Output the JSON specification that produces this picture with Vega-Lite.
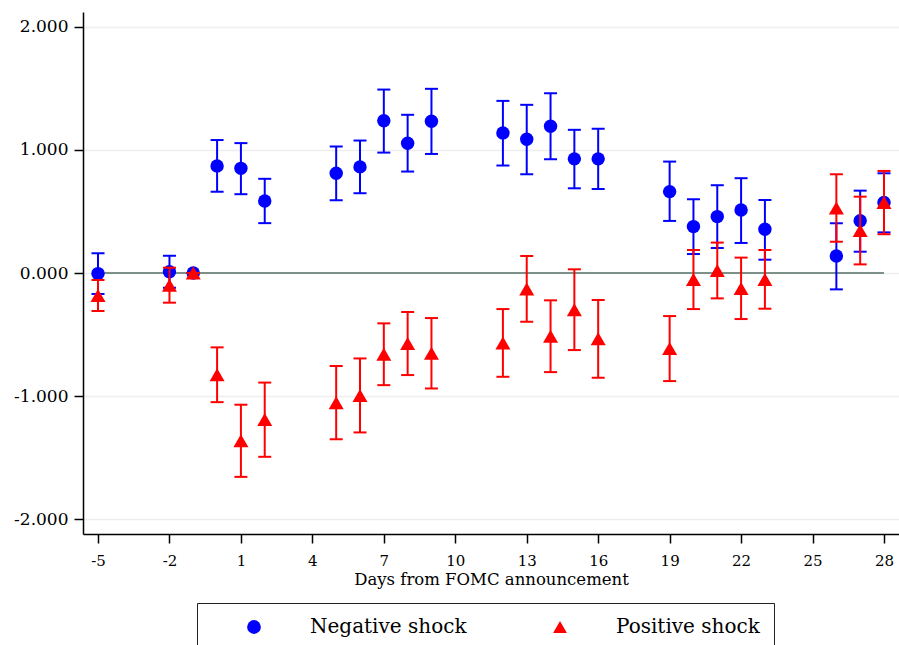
{
  "$schema": "https://vega.github.io/schema/vega-lite/v6.json",
  "width": 816,
  "height": 522,
  "autosize": {"type": "none"},
  "padding": {"left": 83, "top": 12, "right": 0, "bottom": 111},
  "background": "white",
  "datasets": {
    "est": [
      {"day": -5, "series": "Negative shock", "est": -0.005, "lo": -0.17, "hi": 0.16},
      {"day": -2, "series": "Negative shock", "est": 0.01, "lo": -0.12, "hi": 0.14},
      {"day": -1, "series": "Negative shock", "est": 0, "lo": 0, "hi": 0},
      {"day": 0, "series": "Negative shock", "est": 0.87, "lo": 0.66, "hi": 1.08},
      {"day": 1, "series": "Negative shock", "est": 0.85, "lo": 0.64, "hi": 1.055},
      {"day": 2, "series": "Negative shock", "est": 0.585, "lo": 0.405, "hi": 0.765},
      {"day": 5, "series": "Negative shock", "est": 0.81, "lo": 0.59, "hi": 1.027},
      {"day": 6, "series": "Negative shock", "est": 0.862, "lo": 0.648, "hi": 1.076},
      {"day": 7, "series": "Negative shock", "est": 1.236, "lo": 0.978, "hi": 1.49},
      {"day": 8, "series": "Negative shock", "est": 1.054, "lo": 0.824, "hi": 1.285},
      {"day": 9, "series": "Negative shock", "est": 1.233, "lo": 0.967, "hi": 1.496},
      {"day": 12, "series": "Negative shock", "est": 1.138, "lo": 0.873, "hi": 1.398},
      {"day": 13, "series": "Negative shock", "est": 1.087, "lo": 0.802, "hi": 1.366},
      {"day": 14, "series": "Negative shock", "est": 1.192, "lo": 0.924, "hi": 1.46},
      {"day": 15, "series": "Negative shock", "est": 0.927, "lo": 0.688, "hi": 1.163},
      {"day": 16, "series": "Negative shock", "est": 0.927, "lo": 0.683, "hi": 1.171},
      {"day": 19, "series": "Negative shock", "est": 0.661, "lo": 0.423, "hi": 0.905},
      {"day": 20, "series": "Negative shock", "est": 0.377, "lo": 0.154, "hi": 0.599},
      {"day": 21, "series": "Negative shock", "est": 0.458, "lo": 0.203, "hi": 0.713},
      {"day": 22, "series": "Negative shock", "est": 0.512, "lo": 0.244, "hi": 0.77},
      {"day": 23, "series": "Negative shock", "est": 0.355, "lo": 0.108, "hi": 0.593},
      {"day": 26, "series": "Negative shock", "est": 0.138, "lo": -0.133, "hi": 0.404},
      {"day": 27, "series": "Negative shock", "est": 0.425, "lo": 0.173, "hi": 0.669},
      {"day": 28, "series": "Negative shock", "est": 0.572, "lo": 0.33, "hi": 0.81},
      {"day": -5, "series": "Positive shock", "est": -0.183, "lo": -0.309, "hi": -0.057},
      {"day": -2, "series": "Positive shock", "est": -0.099, "lo": -0.241, "hi": 0.043},
      {"day": -1, "series": "Positive shock", "est": 0, "lo": 0, "hi": 0},
      {"day": 0, "series": "Positive shock", "est": -0.826, "lo": -1.049, "hi": -0.604},
      {"day": 1, "series": "Positive shock", "est": -1.363, "lo": -1.656, "hi": -1.07},
      {"day": 2, "series": "Positive shock", "est": -1.19, "lo": -1.493, "hi": -0.89},
      {"day": 5, "series": "Positive shock", "est": -1.053, "lo": -1.35, "hi": -0.756},
      {"day": 6, "series": "Positive shock", "est": -0.995, "lo": -1.295, "hi": -0.694},
      {"day": 7, "series": "Positive shock", "est": -0.66, "lo": -0.911, "hi": -0.409},
      {"day": 8, "series": "Positive shock", "est": -0.573, "lo": -0.829, "hi": -0.317},
      {"day": 9, "series": "Positive shock", "est": -0.652, "lo": -0.938, "hi": -0.366},
      {"day": 12, "series": "Positive shock", "est": -0.568, "lo": -0.843, "hi": -0.293},
      {"day": 13, "series": "Positive shock", "est": -0.129, "lo": -0.396, "hi": 0.138},
      {"day": 14, "series": "Positive shock", "est": -0.513, "lo": -0.805, "hi": -0.222},
      {"day": 15, "series": "Positive shock", "est": -0.298, "lo": -0.626, "hi": 0.03},
      {"day": 16, "series": "Positive shock", "est": -0.535, "lo": -0.851, "hi": -0.22},
      {"day": 19, "series": "Positive shock", "est": -0.614, "lo": -0.878, "hi": -0.35},
      {"day": 20, "series": "Positive shock", "est": -0.053, "lo": -0.293, "hi": 0.187},
      {"day": 21, "series": "Positive shock", "est": 0.02, "lo": -0.206, "hi": 0.247},
      {"day": 22, "series": "Positive shock", "est": -0.125, "lo": -0.374, "hi": 0.125},
      {"day": 23, "series": "Positive shock", "est": -0.052, "lo": -0.29, "hi": 0.187},
      {"day": 26, "series": "Positive shock", "est": 0.528, "lo": 0.254, "hi": 0.802},
      {"day": 27, "series": "Positive shock", "est": 0.345, "lo": 0.07, "hi": 0.62},
      {"day": 28, "series": "Positive shock", "est": 0.572, "lo": 0.315, "hi": 0.829}
    ],
    "zero": [{"start": -5, "end": 28, "y": 0}]
  },
  "encoding": {
    "x": {
      "field": "day", "type": "quantitative",
      "scale": {"domain": [-5.63, 28.63], "nice": false, "zero": false},
      "axis": {
        "values": [-5, -2, 1, 4, 7, 10, 13, 16, 19, 22, 25, 28],
        "labelExpr": "datum.value < 0 ? '-' + format(-datum.value, 'd') : format(datum.value, 'd')",
        "title": "Days from FOMC announcement",
        "grid": false,
        "domainColor": "#000000",
        "domainWidth": 1.5,
        "tickColor": "#000000",
        "tickWidth": 1.5,
        "tickSize": 9,
        "labelPadding": 10,
        "labelFont": "DejaVu Serif",
        "labelFontSize": 15,
        "labelColor": "#000000",
        "titleFont": "DejaVu Serif",
        "titleFontSize": 16.5,
        "titleFontWeight": "normal",
        "titleColor": "#000000",
        "titlePadding": 3
      }
    },
    "y": {
      "field": "est", "type": "quantitative",
      "scale": {"domain": [-2.12, 2.12], "nice": false, "zero": false},
      "axis": {
        "title": null,
        "values": [-2, -1, 0, 1, 2],
        "labelExpr": "datum.value < 0 ? '-' + format(-datum.value, '.3f') : format(datum.value, '.3f')",
        "grid": true,
        "gridColor": "#eeeeee",
        "gridWidth": 1.5,
        "domainColor": "#000000",
        "domainWidth": 1.5,
        "tickColor": "#000000",
        "tickWidth": 1.5,
        "tickSize": 9,
        "labelPadding": 6,
        "labelFont": "DejaVu Serif",
        "labelFontSize": 17,
        "labelColor": "#000000"
      }
    }
  },
  "layer": [
    {
      "data": {"name": "zero"},
      "mark": {"type": "rule", "color": "#7d9189", "strokeWidth": 2},
      "encoding": {
        "x": {"field": "start", "type": "quantitative"},
        "x2": {"field": "end"},
        "y": {"field": "y", "type": "quantitative"}
      }
    },
    {
      "data": {"name": "est"},
      "transform": [{"filter": "datum.series === 'Negative shock'"}],
      "layer": [
        {
          "mark": {"type": "rule", "color": "#0000ff", "strokeWidth": 2},
          "encoding": {
            "y": {"field": "lo", "type": "quantitative"},
            "y2": {"field": "hi"}
          }
        },
        {
          "mark": {"type": "tick", "orient": "horizontal", "color": "#0000ff", "size": 13, "thickness": 2, "opacity": 1},
          "encoding": {"y": {"field": "lo", "type": "quantitative"}}
        },
        {
          "mark": {"type": "tick", "orient": "horizontal", "color": "#0000ff", "size": 13, "thickness": 2, "opacity": 1},
          "encoding": {"y": {"field": "hi", "type": "quantitative"}}
        },
        {
          "mark": {"type": "point", "filled": true, "opacity": 1, "size": 180, "strokeWidth": 0},
          "encoding": {
            "color": {"field": "series", "type": "nominal", "scale": {"domain": ["Negative shock", "Positive shock"], "range": ["#0000ff", "#ff0000"]}, "legend": {"title": null}},
            "shape": {"field": "series", "type": "nominal", "scale": {"domain": ["Negative shock", "Positive shock"], "range": ["circle", "triangle-up"]}, "legend": {"title": null}}
          }
        }
      ]
    },
    {
      "data": {"name": "est"},
      "transform": [{"filter": "datum.series === 'Positive shock'"}],
      "layer": [
        {
          "mark": {"type": "rule", "color": "#ff0000", "strokeWidth": 2},
          "encoding": {
            "y": {"field": "lo", "type": "quantitative"},
            "y2": {"field": "hi"}
          }
        },
        {
          "mark": {"type": "tick", "orient": "horizontal", "color": "#ff0000", "size": 13, "thickness": 2, "opacity": 1},
          "encoding": {"y": {"field": "lo", "type": "quantitative"}}
        },
        {
          "mark": {"type": "tick", "orient": "horizontal", "color": "#ff0000", "size": 13, "thickness": 2, "opacity": 1},
          "encoding": {"y": {"field": "hi", "type": "quantitative"}}
        },
        {
          "mark": {"type": "point", "filled": true, "opacity": 1, "size": 225, "strokeWidth": 0},
          "encoding": {
            "color": {"field": "series", "type": "nominal", "scale": {"domain": ["Negative shock", "Positive shock"], "range": ["#0000ff", "#ff0000"]}, "legend": {"title": null}},
            "shape": {"field": "series", "type": "nominal", "scale": {"domain": ["Negative shock", "Positive shock"], "range": ["circle", "triangle-up"]}, "legend": {"title": null}}
          }
        }
      ]
    }
  ],
  "config": {
    "view": {"stroke": null},
    "legend": {
      "orient": "none",
      "legendX": 114,
      "legendY": 591,
      "direction": "horizontal",
      "strokeColor": "#222222",
      "padding": 14,
      "labelFont": "DejaVu Serif",
      "labelFontSize": 20,
      "labelColor": "#000000",
      "labelOffset": 46,
      "symbolOffset": 33,
      "columnPadding": 50,
      "symbolSize": 190,
      "symbolStrokeWidth": 0,
      "symbolOpacity": 1
    }
  }
}
